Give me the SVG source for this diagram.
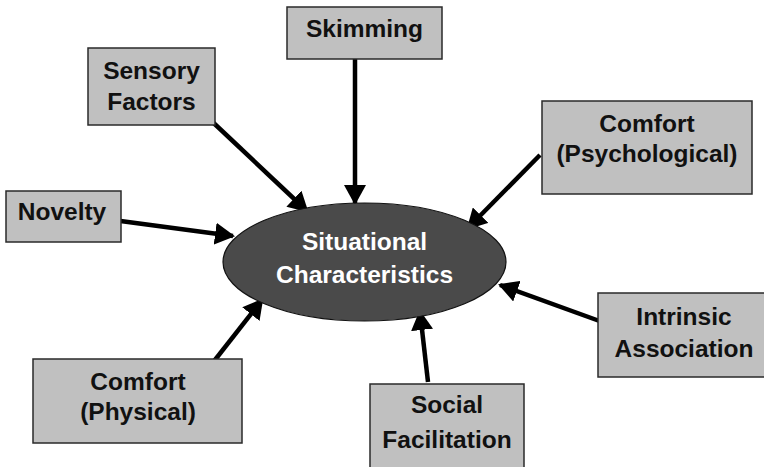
<svg xmlns="http://www.w3.org/2000/svg" width="764" height="467" viewBox="0 0 764 467">
<style>
.box{fill:#c0c0c0;stroke:#2a2a2a;stroke-width:1.5}
.t{font-family:"Liberation Sans",Arial,sans-serif;font-weight:bold;font-size:24.5px;fill:#111;text-anchor:middle}
.w{fill:#fff}
.c{stroke:#000;stroke-width:4.5;fill:none;marker-end:url(#ah)}
</style>
<defs>
<marker id="ah" markerUnits="userSpaceOnUse" markerWidth="20" markerHeight="22" refX="18" refY="11" orient="auto" viewBox="0 0 20 22">
<path d="M0,0 L20,11 L0,22 z" fill="#000"/>
</marker>
</defs>
<rect width="764" height="467" fill="#fff"/>
<g id="connectors">
<line class="c" x1="355" y1="59" x2="355" y2="203"/>
<line class="c" x1="203" y1="113" x2="307" y2="211"/>
<line class="c" x1="113" y1="220" x2="233" y2="236"/>
<line class="c" x1="540" y1="155" x2="468" y2="228"/>
<line class="c" x1="605" y1="323" x2="500" y2="285"/>
<line class="c" x1="428" y1="382" x2="420" y2="312"/>
<line class="c" x1="211" y1="365" x2="262" y2="300"/>
</g>
<g id="center">
<ellipse cx="364.5" cy="262" rx="141.5" ry="59" fill="#4a4a4a" stroke="#111" stroke-width="1.2"/>
<text class="t w" x="364.5" y="250">Situational</text>
<text class="t w" x="364.5" y="283">Characteristics</text>
</g>
<g id="skimming">
<rect class="box" x="287" y="7" width="155" height="52"/>
<text class="t" x="364.5" y="37">Skimming</text>
</g>
<g id="sensory">
<rect class="box" x="88" y="48" width="127" height="77"/>
<text class="t" x="151.5" y="79">Sensory</text>
<text class="t" x="151.5" y="110">Factors</text>
</g>
<g id="novelty">
<rect class="box" x="6" y="191" width="115" height="51"/>
<text class="t" x="62" y="220">Novelty</text>
</g>
<g id="comfort-psych">
<rect class="box" x="542" y="101" width="210" height="93"/>
<text class="t" x="647" y="132">Comfort</text>
<text class="t" x="647" y="162">(Psychological)</text>
</g>
<g id="intrinsic">
<rect class="box" x="598" y="293" width="170" height="84"/>
<text class="t" x="684" y="325">Intrinsic</text>
<text class="t" x="684" y="357">Association</text>
</g>
<g id="social">
<rect class="box" x="370" y="384" width="154" height="90"/>
<text class="t" x="447" y="413">Social</text>
<text class="t" x="447" y="448">Facilitation</text>
</g>
<g id="comfort-phys">
<rect class="box" x="33" y="359" width="209" height="84"/>
<text class="t" x="138" y="390">Comfort</text>
<text class="t" x="138" y="420">(Physical)</text>
</g>
</svg>
